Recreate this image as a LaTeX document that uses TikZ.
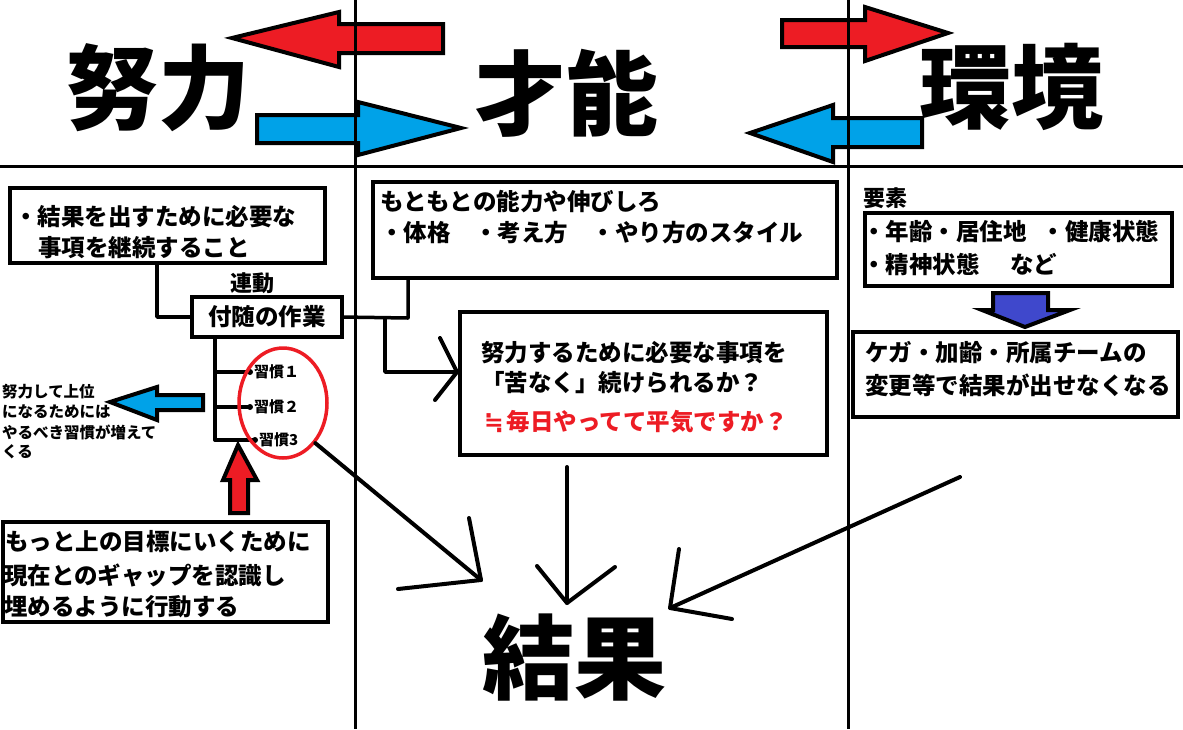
\documentclass[tikz,border=0pt]{standalone}
\usepackage{fontspec}
\setmainfont{Noto Sans CJK JP}
\newfontfamily\dejavu{DejaVu Sans}
\usetikzlibrary{shapes.geometric,calc}
\definecolor{myred}{HTML}{ED1C24}
\definecolor{myblue}{HTML}{00A2E8}
\definecolor{myviolet}{HTML}{3F48CC}
\tikzset{
  box/.style={draw, line width=4pt, rectangle, inner sep=0pt, outer sep=0pt, anchor=north west},
  txt/.style={inner sep=0pt, anchor=west, font=\bfseries\fontsize{23.5}{26}\selectfont},
  small/.style={inner sep=0pt, anchor=west, font=\bfseries\fontsize{15.5}{18}\selectfont},
  habit/.style={inner ysep=0pt, inner xsep=4pt, anchor=west, font=\bfseries\fontsize{15}{18}\selectfont},
  title/.style={inner sep=0pt, font=\bfseries\fontsize{92}{92}\selectfont},
  divider/.style={line width=3pt},
  conn/.style={line width=3.5pt, line join=round, line cap=round},
  hand/.style={line width=4pt, line cap=round, line join=round},
  bigarrow/.style={line width=4pt, line join=miter},
  dot/.style={circle, fill, inner sep=0pt, minimum size=6pt},
}
\begin{document}
\begin{tikzpicture}[x=1pt,y=-1pt]
\useasboundingbox (0,0) rectangle (1183,729);
\fill[white] (0,0) rectangle (1183,729);

% header arrows
\draw[bigarrow, fill=myred] (232,38) -- (339,12) -- (339,24) -- (443,24) -- (443,53) -- (339,53) -- (339,67) -- cycle;
\draw[bigarrow, fill=myblue] (257,115) -- (358,115) -- (358,102) -- (461,128) -- (358,155) -- (358,143) -- (257,143) -- cycle;
\draw[bigarrow, fill=myred] (782,20) -- (865,20) -- (865,7) -- (948,33) -- (865,61) -- (865,47) -- (782,47) -- cycle;
\draw[bigarrow, fill=myblue] (750,133) -- (833,105) -- (833,118) -- (922,118) -- (922,147) -- (833,147) -- (833,162) -- cycle;

% titles
\node[title] (doryoku) at (158,88) {努力};
\node[title] (sainou) at (566,93) {才能};
\node[title] (kankyo) at (1011,87) {環境};
\node[title] (kekka) at (574,658) {結果};

% dividers
\draw[divider] (0,166) -- (1183,166);
\draw[divider] (355,0) -- (355,729);
\draw[divider] (848,0) -- (848,729);

% left column
\node[box, minimum width=315pt, minimum height=75pt] (box1) at (10,188) {};
\node[txt] (b1l1) at (14,217) {・結果を出すために必要な};
\node[txt] (b1l2) at (38,248) {事項を継続すること};
\node[inner sep=0pt, font=\bfseries\fontsize{22}{24}\selectfont] (rendou) at (252,283) {連動};
\node[box, minimum width=150pt, minimum height=40pt, anchor=north west, font=\bfseries\fontsize{23.5}{26}\selectfont] (box2) at (192,297) {付随の作業};
\draw[conn] ($(box1.south west)+(147,0)$) |- (box2.west);

\coordinate (t1) at (215,372);
\coordinate (t2) at (215,407);
\coordinate (t3) at (215,440);
\node[habit] (h1) at (250,372) {習慣１};
\node[habit] (h2) at (250,407) {習慣２};
\node[habit] (h3) at (255,440) {習慣3};
\draw[conn] ($(box2.south west)+(23,0)$) -- (t3);
\draw[conn] (t1) -- (h1.west) node[dot]{};
\draw[conn] (t2) -- (h2.west) node[dot]{};
\draw[conn] (t3) -- (h3.west) node[dot]{};
\node[draw=myred, line width=3.5pt, ellipse, minimum width=88pt, minimum height=110pt, inner sep=0pt] (circ) at (283,403) {};

\draw[bigarrow, fill=myblue] (110,402) -- (157,387) -- (157,395) -- (203,395) -- (203,410) -- (157,410) -- (157,420) -- cycle;
\node[small] (lt1) at (2,392) {努力して上位};
\node[small] (lt2) at (2,412) {になるためには};
\node[small] (lt3) at (2,432) {やるべき習慣が増えて};
\node[small] (lt4) at (2,452) {くる};

\draw[bigarrow, fill=myred] (238,445) -- (257,480) -- (248,480) -- (248,513) -- (230,513) -- (230,480) -- (223,480) -- cycle;
\node[box, minimum width=325pt, minimum height=100pt] (box7) at (3,522) {};
\node[txt] (b7l1) at (5,542) {もっと上の目標にいくために};
\node[txt] (b7l2) at (4,575) {現在とのギャップを認識し};
\node[txt] (b7l3) at (4,607) {埋めるように行動する};

% middle column
\node[box, minimum width=464pt, minimum height=96pt] (box3) at (373,182) {};
\node[txt] (b3l1) at (380,202) {もともとの能力や伸びしろ};
\node[txt] (b3l2) at (380,233) {・体格　・考え方　・やり方のスタイル};
\node[box, minimum width=367pt, minimum height=143pt] (box4) at (460,312) {};
\node[txt] (b4l1) at (481,353) {努力するために必要な事項を};
\node[txt] (b4l2) at (481,383) {「苦なく」続けられるか？};
\node[txt, text=myred] (b4l3) at (484,422) {{\dejavu\bfseries ≒}\hspace{0.12em}毎日やってて平気ですか？};

\coordinate (j1) at (408,318);
\coordinate (j2) at (385,318);
\coordinate (a4) at (457,372);
\draw[conn] (box2.east) -- (j1) -- (j1 |- box3.south);
\draw[conn] (j2) |- (a4);
\draw[hand] ($(a4)+(-17,-34)$) -- (a4) -- ($(a4)+(-22,28)$);

% right column
\node[inner sep=0pt, font=\bfseries\fontsize{22}{24}\selectfont] (youso) at (885,198) {要素};
\node[box, minimum width=307pt, minimum height=73pt] (box5) at (865,213) {};
\node[txt] (b5l1) at (862,232) {・年齢・居住地\hspace{0.65em}・健康状態};
\node[txt] (b5l2) at (862,265) {・精神状態\hspace{1.3em}など};
\draw[bigarrow, fill=myviolet] (993,293) -- (1048,293) -- (1048,310) -- (1070,310) -- (1025,327) -- (982,310) -- (993,310) -- cycle;
\node[box, minimum width=325pt, minimum height=85pt] (box6) at (853,332) {};
\node[txt] (b6l1) at (865,353) {ケガ・加齢・所属チームの};
\node[txt] (b6l2) at (865,385) {変更等で結果が出せなくなる};

% arrows into result
\coordinate (r1) at (481,580);
\draw[hand] (circ.south east) -- (r1);
\draw[hand] ($(r1)+(-12,-62)$) -- (r1) -- ($(r1)+(-83,9)$);
\coordinate (s2) at (567,467);
\coordinate (r2) at (567,603);
\draw[hand] (s2) -- (r2);
\draw[hand] ($(r2)+(-30,-37)$) -- (r2) -- ($(r2)+(48,-36)$);
\coordinate (s3) at (960,477);
\coordinate (r3) at (670,608);
\draw[hand] (s3) -- (r3);
\draw[hand] ($(r3)+(9,-59)$) -- (r3) -- ($(r3)+(62,11)$);
\end{tikzpicture}
\end{document}
